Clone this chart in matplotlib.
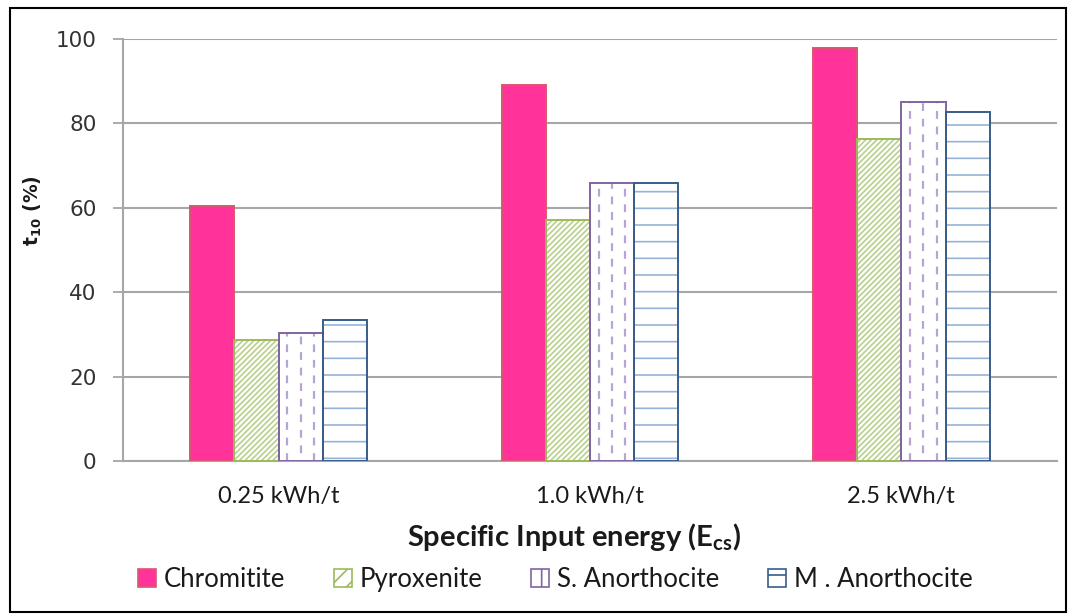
import matplotlib
matplotlib.use("Agg")
import matplotlib.pyplot as plt
import numpy as np
from matplotlib.patches import Rectangle, Patch

# t10 values (%) for each rock type at three specific input energies
energies = ["0.25 kWh/t", "1.0 kWh/t", "2.5 kWh/t"]
series = ["Chromitite", "Pyroxenite", "S. Anorthocite", "M . Anorthocite"]
chromitite = [60.4, 89.1, 97.9]
pyroxenite = [28.7, 57.1, 76.3]
s_anorthocite = [30.4, 65.8, 85.0]
m_anorthocite = [33.4, 65.8, 82.8]
values = [chromitite, pyroxenite, s_anorthocite, m_anorthocite]

# fill, hatch, hatch colour, outline colour per series
styles = [
    ("#FF3399", "", "#FF3399", "#D9566F"),
    ("white", "//////", "#B7D08A", "#9BBB59"),
    ("white", "", "#B9A3D3", "#8064A2"),
    ("white", "-", "#95B3D7", "#385D8A"),
]

label_font = ["Lato", "Open Sans", "DejaVu Sans"]
plt.rcParams["hatch.linewidth"] = 1.2

fig = plt.figure(figsize=(10.72, 6.15), dpi=100)
ax = fig.add_axes([0.1147, 0.2504, 0.8713, 0.6862])

x = np.arange(len(energies))
width = 0.142
offsets = (np.arange(len(series)) - 1.5) * width

for i, (vals, off, (fc, hatch, hc, ec)) in enumerate(zip(values, offsets, styles)):
    # hatch drawn first, then an unfilled bar on top for the outline
    ax.bar(x + off, vals, width, color=fc, hatch=hatch, edgecolor=hc,
           linewidth=0, zorder=3)
    outline = ax.bar(x + off, vals, width, fill=False, edgecolor=ec,
                     linewidth=1.4, zorder=4)
    if i == 2:
        # dashed vertical pattern, staggered column to column
        for bar in outline:
            x0, w, h = bar.get_x(), bar.get_width(), bar.get_height()
            for k, frac in enumerate([0.2, 0.5, 0.8]):
                ln, = ax.plot([x0 + frac * w] * 2, [0, h], color=hc,
                              linewidth=1.6, zorder=3.5,
                              linestyle=(3.5 * (k % 2), (3.5, 3.5)))
                ln.set_clip_path(bar)

ax.set_xlim(-0.5, 2.5)
ax.set_ylim(0, 100)
ax.set_yticks(range(0, 101, 20))
ax.yaxis.grid(True, color="#A6A6A6", linewidth=1.5, zorder=0)
ax.set_axisbelow(True)

for s in ["top", "right"]:
    ax.spines[s].set_visible(False)
ax.spines["left"].set_color("#A6A6A6")
ax.spines["bottom"].set_color("#A6A6A6")
ax.spines["left"].set_linewidth(1.5)
ax.spines["bottom"].set_linewidth(1.5)

ax.tick_params(axis="y", length=7, width=1.3, color="#A6A6A6",
               labelsize=15.5, labelcolor="#333333", pad=12)
ax.tick_params(axis="x", length=0, pad=18)
ax.set_xticks(x)
ax.set_xticklabels(energies, fontsize=17, family=label_font,
                   color="#1A1A1A")

fig.text(0.535, 0.127, r"Specific Input energy (E$\mathregular{_{cs}}$)",
         ha="center", va="center", fontsize=21, fontweight="bold",
         family=label_font, color="#1A1A1A")
fig.text(0.031, 0.658, r"t$\mathregular{_{10}}$ (%)", rotation=90,
         ha="center", va="center", fontsize=13.5, fontweight="bold",
         color="#1A1A1A")

handles = []
for (fc, hatch, hc, ec) in styles:
    handles.append(Patch(facecolor=fc, hatch=hatch[:2] or None, edgecolor=ec,
                         linewidth=1.2))
handles[2] = Patch(facecolor="white", hatch="|", edgecolor=styles[2][3],
                   linewidth=1.2)
leg = fig.legend(handles, series, loc="center", ncol=4,
                 bbox_to_anchor=(0.518, 0.058), frameon=False,
                 prop={"family": label_font, "size": 18.5},
                 handlelength=0.7, handleheight=0.7, handletextpad=0.3,
                 columnspacing=1.9)
for t in leg.get_texts():
    t.set_color("#1A1A1A")

# outer frame round the whole chart
fig.patches.append(Rectangle((0.009, 0.005), 0.985, 0.982,
                             transform=fig.transFigure, fill=False,
                             edgecolor="black", linewidth=1.5))

fig.savefig("out.png", dpi=100)
